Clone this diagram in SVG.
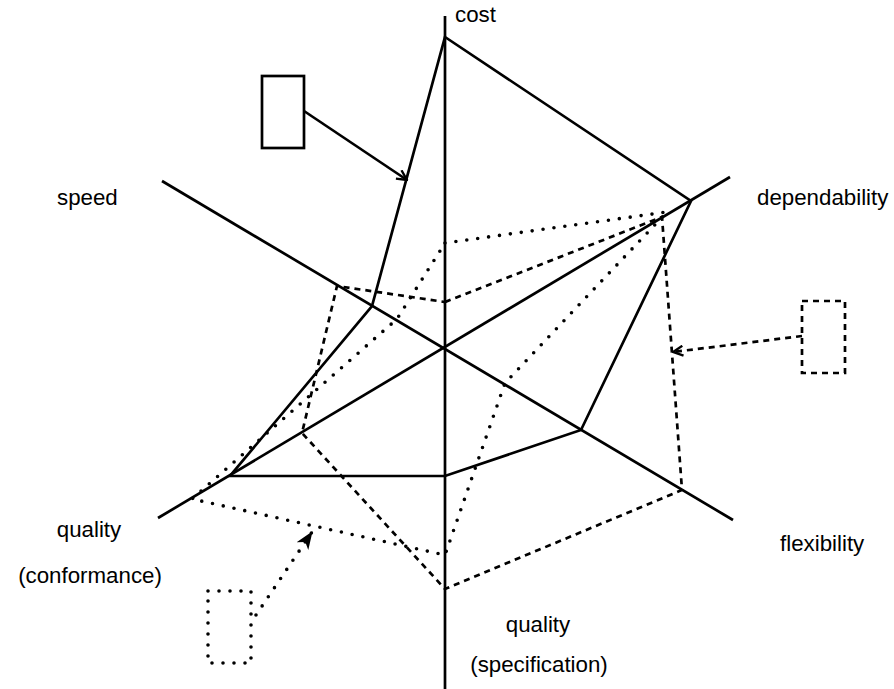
<svg xmlns="http://www.w3.org/2000/svg" width="894" height="689" viewBox="0 0 894 689">
<style>
.ax{stroke:#000;stroke-width:2.7;fill:none}
.sol{stroke:#000;stroke-width:2.7;fill:none;stroke-linejoin:miter}
.dash{stroke:#000;stroke-width:2.7;fill:none;stroke-dasharray:6 5}
.dot{stroke:#000;stroke-width:3.6;fill:none;stroke-dasharray:0 11;stroke-linecap:round}
.lbl{font-family:"Liberation Sans",Arial,Helvetica,sans-serif;font-size:22.3px;fill:#000}
</style>
<defs>
<marker id="open" markerUnits="userSpaceOnUse" viewBox="0 0 12 12" markerWidth="12" markerHeight="12" refX="11" refY="6" orient="auto">
<path d="M1,1 L11,6 L1,11" fill="none" stroke="#000" stroke-width="2.4"/>
</marker>
<marker id="stealth" markerUnits="userSpaceOnUse" viewBox="0 0 18 14" markerWidth="18" markerHeight="14" refX="17" refY="7" orient="auto">
<path d="M0,0 L18,7 L0,14 L5,7 Z" fill="#000"/>
</marker>
</defs>
<rect width="894" height="689" fill="#fff"/>
<g id="axes">
<line class="ax" x1="445" y1="16" x2="445" y2="689"/>
<line class="ax" x1="162" y1="181" x2="733" y2="520"/>
<line class="ax" x1="158" y1="518" x2="730" y2="177"/>
</g>
<g id="connectors">
<polygon id="solid-profile" class="sol" points="445,37 691,201 581,430 445,476 230,476 372,306"/>
<polygon id="dashed-profile" class="dash" points="445,302 662,217 682,490 445,589 302,433 337,286"/>
<polygon id="dotted-profile" class="dot" points="445,243 667,212 505,383 445,555 192,499 397,319"/>
<line class="sol" x1="304" y1="111" x2="407" y2="180" marker-end="url(#open)"/>
<line class="dash" x1="802" y1="336" x2="673" y2="352" marker-end="url(#open)"/>
<line class="dot" x1="256" y1="615" x2="312" y2="532" marker-end="url(#stealth)"/>
</g>
<g id="box-solid"><rect class="sol" x="262" y="76" width="42" height="72"/></g>
<g id="box-dashed"><rect class="dash" x="802" y="301" width="43" height="72"/></g>
<g id="box-dotted"><rect class="dot" x="208" y="591" width="43" height="72"/></g>
<g id="label-cost"><text class="lbl" x="455" y="22">cost</text></g>
<g id="label-speed"><text class="lbl" x="57" y="205">speed</text></g>
<g id="label-dependability"><text class="lbl" x="757" y="205">dependability</text></g>
<g id="label-flexibility"><text class="lbl" x="780" y="551">flexibility</text></g>
<g id="label-conformance"><text class="lbl" x="89" y="537" text-anchor="middle">quality</text><text class="lbl" x="90" y="583" text-anchor="middle">(conformance)</text></g>
<g id="label-specification"><text class="lbl" x="538" y="632" text-anchor="middle">quality</text><text class="lbl" x="539" y="672" text-anchor="middle">(specification)</text></g>
</svg>
